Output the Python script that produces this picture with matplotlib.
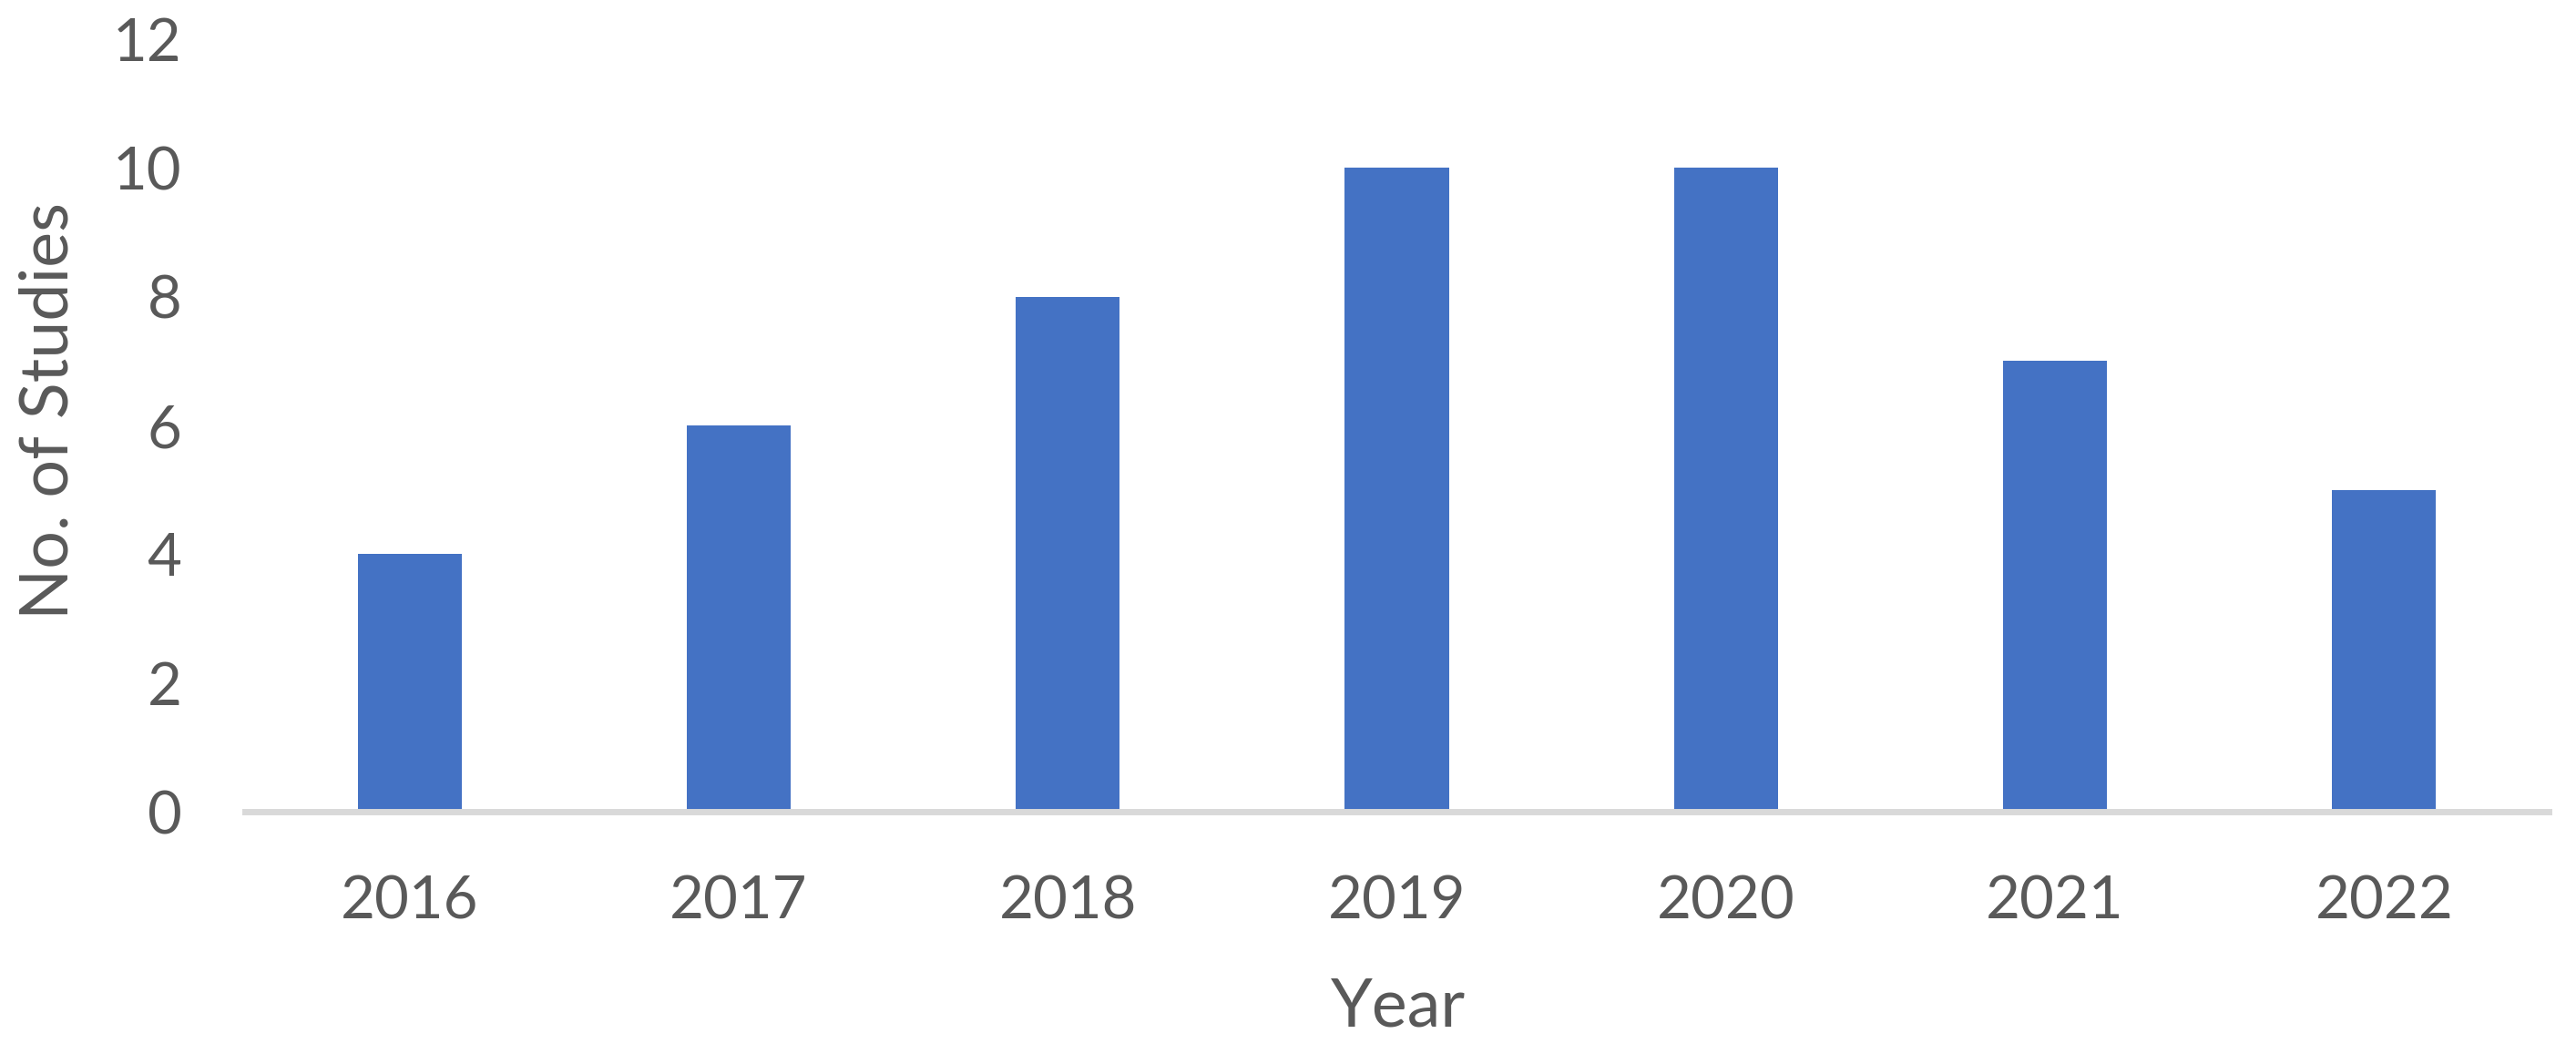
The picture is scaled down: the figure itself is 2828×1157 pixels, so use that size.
import matplotlib
matplotlib.use("Agg")
import matplotlib.pyplot as plt

years = ["2016", "2017", "2018", "2019", "2020", "2021", "2022"]
studies = [4, 6, 8, 10, 10, 7, 5]
yticks = [0, 2, 4, 6, 8, 10, 12]

plt.rcParams['font.family'] = ['Lato', 'DejaVu Sans']
TXT = "#595959"

W, H = 2828, 1157
fig = plt.figure(figsize=(W / 100, H / 100), dpi=100)
ax = fig.add_axes([269 / W, 1 - 891 / H, (2798 - 269) / W, (891 - 43) / H])

ax.bar(range(len(years)), studies, width=0.316, color="#4472C4", zorder=2)
ax.set_xlim(-0.5, len(years) - 0.5)
ax.set_ylim(0, 12)
ax.set_yticks(yticks)
ax.set_yticklabels([str(v) for v in yticks])
ax.set_xticks(range(len(years)))
ax.set_xticklabels(years)

for s in ["top", "right", "left"]:
    ax.spines[s].set_visible(False)
ax.spines["bottom"].set_color("#D9D9D9")
ax.spines["bottom"].set_linewidth(5.0)
ax.spines["bottom"].set_zorder(3)

ax.tick_params(axis="both", length=0, labelsize=47, labelcolor=TXT)
ax.tick_params(axis="y", pad=50)
ax.tick_params(axis="x", pad=50)

ax.set_xlabel("Year", fontsize=53, color=TXT)
ax.set_ylabel("No. of Studies", fontsize=53, color=TXT)
ax.xaxis.set_label_coords(0.5006, -0.2535)
ax.xaxis.label.set_va("center")
ax.yaxis.set_label_coords(-0.085, 0.519)
ax.yaxis.label.set_va("center")

fig.savefig("out.png", dpi=100, facecolor="white")
